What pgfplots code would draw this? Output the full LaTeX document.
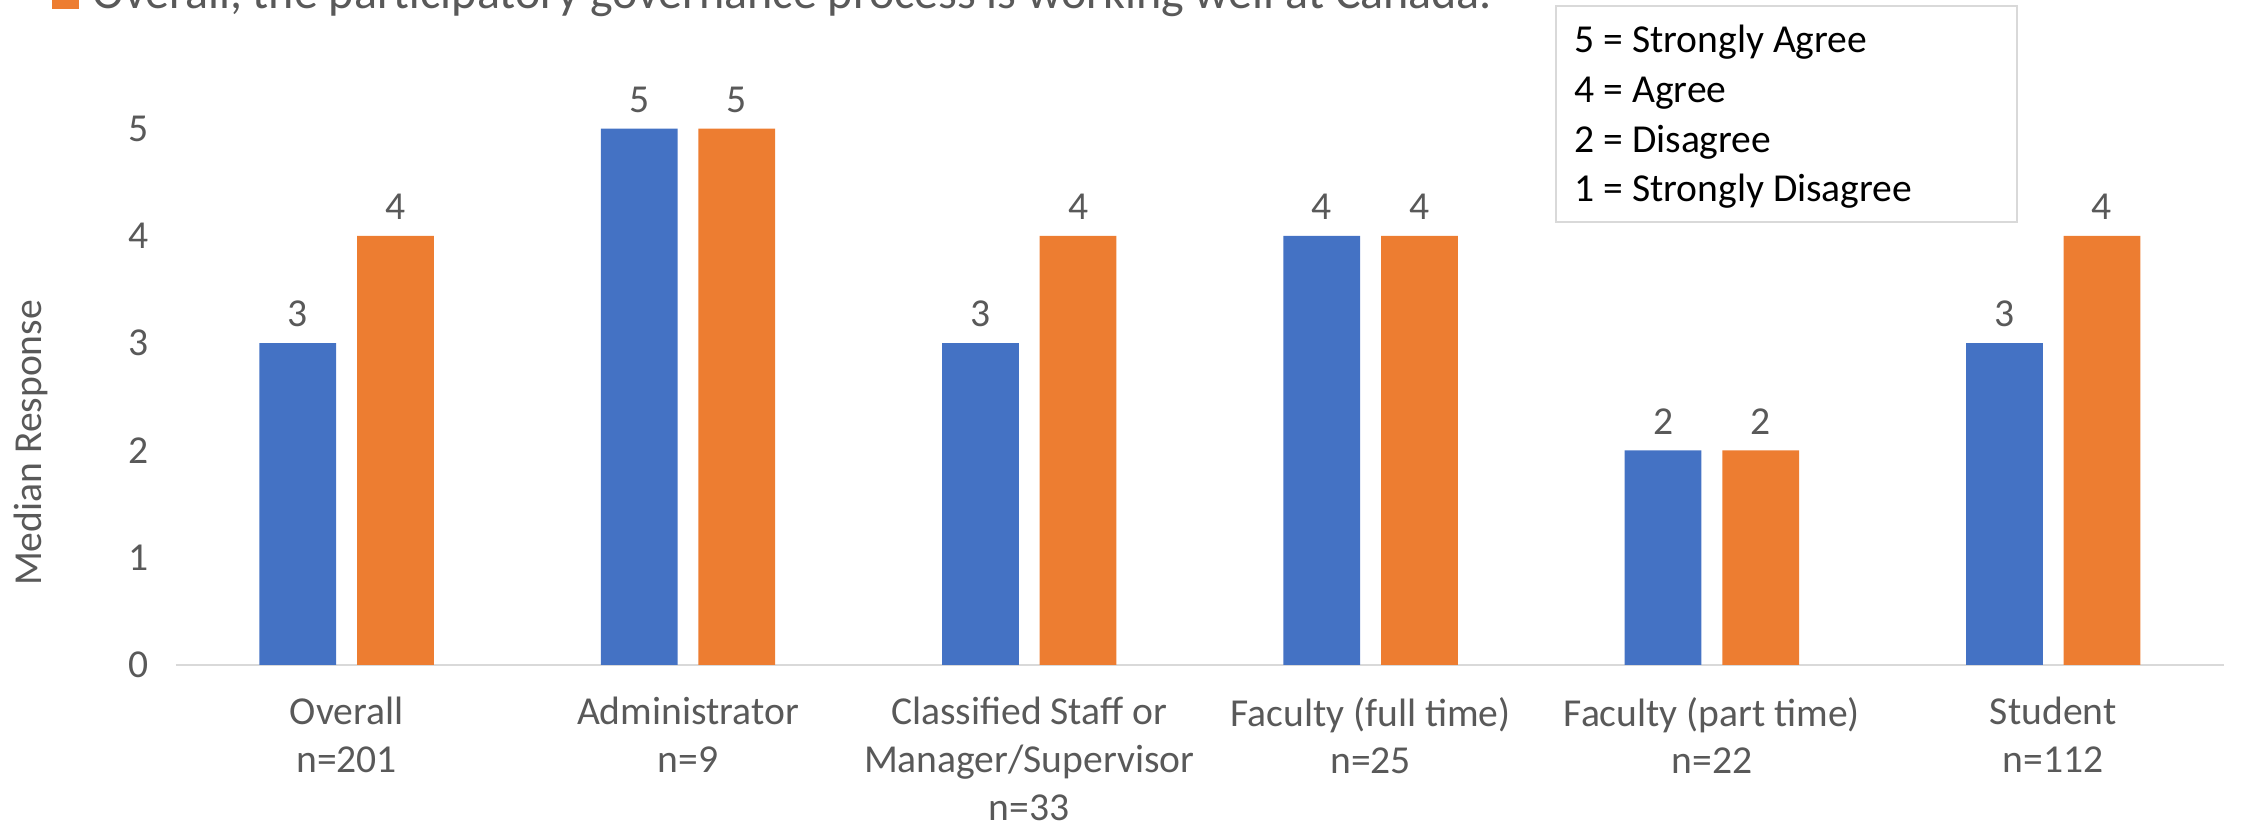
\documentclass[border=0pt]{standalone}
\usepackage{pgfplots}
\pgfplotsset{compat=1.18}
\usepackage{fontspec}
\setmainfont{Carlito}
\definecolor{barblue}{HTML}{4472C4}
\definecolor{barorange}{HTML}{ED7D31}
\definecolor{txtgray}{HTML}{595959}
\definecolor{linegray}{HTML}{D9D9D9}
\newcommand{\tickfont}{\fontsize{19.8}{23.9}\selectfont}
\begin{document}
\begin{tikzpicture}
\begin{axis}[
    scale only axis,
    width=1024pt, height=268.2pt,
    xmin=-0.5, xmax=5.5, ymin=0, ymax=5,
    axis x line*=bottom, axis y line*=left,
    x axis line style={draw=linegray, line width=0.75pt, -},
    y axis line style={draw=none},
    major tick length=0pt,
    ytick={0,1,2,3,4,5},
    xtick={0,1,2,3,4,5},
    xticklabels={{Overall\\n=201},{Administrator\\n=9},{Classified Staff or\\Manager/Supervisor\\n=33},{Faculty (full time)\\n=25},{Faculty (part time)\\n=22},{Student\\n=112}},
    xticklabel style={align=center, text=txtgray, font=\tickfont, yshift=-12.5pt},
    yticklabel style={text=txtgray, font=\tickfont, xshift=-10pt},
    /pgf/number format/assume math mode=true,
    ylabel={Median Response},
    every axis y label/.style={at={(axis description cs:-0.0708,0.414)}, rotate=90, anchor=center, text=txtgray, font=\tickfont},
    ybar, bar width=0.225,
    nodes near coords,
    every node near coord/.append style={text=txtgray, font=\tickfont, yshift=4.6pt},
]
\addplot[fill=barblue, draw=none, bar shift=-0.143] coordinates {(0,3) (1,5) (2,3) (3,4) (4,2) (5,3)};
\addplot[fill=barorange, draw=none, bar shift=0.143] coordinates {(0,4) (1,5) (2,4) (3,4) (4,2) (5,4)};
\end{axis}
% scale key box
\draw[linegray, line width=0.75pt, fill=white] (690pt,221.5pt) rectangle (920.5pt,329.5pt);
\node[anchor=base west, inner sep=0pt, font=\tickfont] at (699pt,306pt) {5 = Strongly Agree};
\node[anchor=base west, inner sep=0pt, font=\tickfont] at (699pt,281pt) {4 = Agree};
\node[anchor=base west, inner sep=0pt, font=\tickfont] at (699pt,256pt) {2 = Disagree};
\node[anchor=base west, inner sep=0pt, font=\tickfont] at (699pt,231.6pt) {1 = Strongly Disagree};
% legend entry, cut by the top edge
\fill[barorange] (-62pt,328pt) rectangle (-48.5pt,341pt);
\node[anchor=base west, inner sep=0pt, text=txtgray, font=\fontsize{24}{29}\selectfont] at (-42pt,328.3pt) {Overall, the participatory governance process is working well at Canada.};
\pgfresetboundingbox
\useasboundingbox (-88pt,-82pt) rectangle (1033.5pt,332.5pt);
\end{tikzpicture}
\end{document}
